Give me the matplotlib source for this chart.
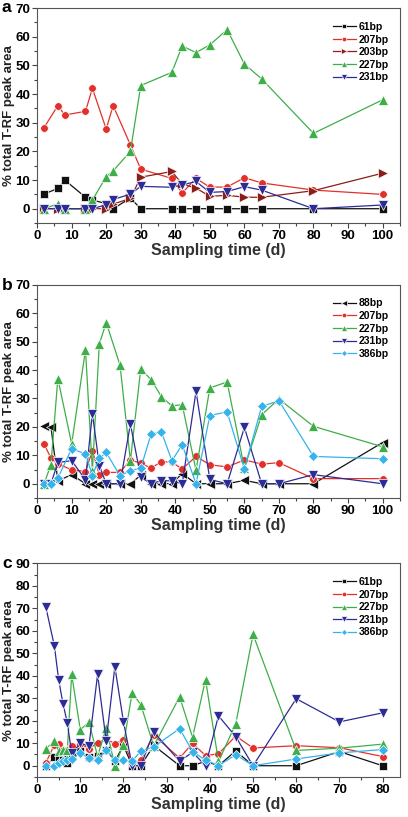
import matplotlib
matplotlib.use("Agg")
import matplotlib.pyplot as plt
from matplotlib.ticker import MultipleLocator

plt.rcParams["font.family"] = ["Liberation Sans", "DejaVu Sans"]
plt.rcParams["font.weight"] = "bold"

BLACK = "#111111"
RED = "#e2312b"
DARKRED = "#8a1f1a"
GREEN = "#3fae49"
BLUE = "#2c2c96"
LBLUE = "#35b3ea"

# ---- panel a -------------------------------------------------------------
t_a = [2, 6, 8, 14, 16, 20, 22, 27, 30, 39, 42, 46, 50, 55, 60, 65, 80, 100]
a_61 = [5.1, 7.1, 10, 4, 3, 1.8, 0, 3.7, 0, 0, 0, 0, 0, 0, 0, 0, 0, 0]
a_207 = [28.3, 36, 32.7, 34, 42, 27.8, 36, 22.3, 13.8, 10.6, 5.5, 10.6,
         7.5, 7.6, 10.8, 9, 6.5, 5]
a_203 = [0, 0, 0, 0, 0, 0, 1.6, 3.6, 11, 13, 8.6, 7.2, 4.3, 4.7, 4, 4,
         6.3, 12.4]
a_227 = [0, 1.7, 0, 0, 3, 11.2, 13.2, 20, 43, 47.6, 56.8, 54.5, 57.2,
         62.5, 50.5, 45.3, 26.3, 38]
a_231 = [0, 0, 0, 0, 0, 1.4, 3.2, 5.1, 7.8, 7.5, 8.3, 9.5, 5.7, 6, 7.7,
         6.5, 0, 1.3]

# ---- panel b -------------------------------------------------------------
t_b = [2, 4, 6, 10, 14, 16, 18, 20, 24, 27, 30, 33, 36, 39, 42, 46, 50,
       55, 60, 65, 70, 80, 100]
b_88 = [20.2, 20, 1, 3.2, 0, 0, 0, 0, 0, 0, 3, 0, 0, 0, 3.6, 0, 0, 0,
        1.2, 0, 0, 0, 14.5]
b_207 = [14, 9, 7, 4.9, 4.3, 11.6, 3.2, 4, 4, 8.4, 7.2, 5.5, 7.8, 7.6,
         5.2, 9.6, 6.7, 5.9, 8.4, 6.9, 7.4, 1.8, 1.8]
b_227 = [0, 6.7, 37, 14, 47.1, 4.6, 49.1, 56.7, 41.7, 8.1, 40.4, 36.6,
         30.6, 27.4, 27.8, 4.7, 33.7, 35.8, 5.5, 24.3, 29.8, 20.2, 13]
b_231 = [0, 0, 7.5, 8.1, 1.4, 24.7, 6.4, 0, 0, 21, 2.3, 0, 1.1, 1, 0,
         32.5, 1.5, 0, 19.8, 0, 0, 3.2, 0]
b_386 = [0, 0, 2, 12.3, 10.5, 2.9, 9, 11, 2.8, 4.6, 5.5, 17.5, 18.2, 8.1,
         13.7, 0, 24, 25.3, 5.2, 27.2, 29.2, 9.6, 8.8]

# ---- panel c -------------------------------------------------------------
t_c = [2, 4, 5, 6, 7, 8, 10, 12, 14, 16, 18, 20, 22, 24, 27, 33, 36, 39,
       42, 46, 50, 60, 70, 80]
c_61 = [0, 3.7, 3, 3, 1, 5, 6.5, 4, 4.5, 7.2, 2, 9, 0, 0, 9, 0, 0, 2,
        0, 6.6, 0, 0, 6.3, 0]
c_207 = [1.2, 9.4, 9.8, 7, 7, 8.9, 9.8, 7.6, 10.1, 11.9, 9.8, 11.6, 0.8,
         2.7, 13.6, 3.4, 10, 4.5, 5.3, 13.2, 7.9, 8.9, 8, 4.1]
c_227 = [7.6, 10.8, 6.5, 7, 7, 40.6, 16, 19.4, 4.2, 16.8, 0, 9.4, 32.4,
         27.2, 8.8, 30.6, 12.6, 38.3, 1.9, 18.6, 58.4, 6.8, 7.8, 9.6]
c_231 = [70.7, 53.2, 38, 27.5, 19, 5.5, 10, 8.7, 40.6, 11, 44, 19.5, 0, 0,
         15, 2, 6, 0, 22.2, 12.9, 0, 29.8, 19.5, 23.5]
c_386 = [0, 0, 1, 2, 2.6, 3, 5.6, 3.3, 2.6, 7.2, 2.6, 2.6, 2, 6.5, 8.4,
         16.5, 6.3, 2.5, 0, 4.9, 0, 3, 5.7, 7.2]

panels = [
    ("a", t_a, [("61bp", a_61, BLACK, "s"), ("207bp", a_207, RED, "o"),
                ("203bp", a_203, DARKRED, ">"), ("227bp", a_227, GREEN, "^"),
                ("231bp", a_231, BLUE, "v")], 105, 70),
    ("b", t_b, [("88bp", b_88, BLACK, "<"), ("207bp", b_207, RED, "o"),
                ("227bp", b_227, GREEN, "^"), ("231bp", b_231, BLUE, "v"),
                ("386bp", b_386, LBLUE, "D")], 105, 70),
    ("c", t_c, [("61bp", c_61, BLACK, "s"), ("207bp", c_207, RED, "o"),
                ("227bp", c_227, GREEN, "^"), ("231bp", c_231, BLUE, "v"),
                ("386bp", c_386, LBLUE, "D")], 84, 90),
]

fig = plt.figure(figsize=(4.08, 8.17), dpi=100)
rects = [(0.091, 0.727, 0.889, 0.263),
         (0.091, 0.3905, 0.889, 0.261),
         (0.091, 0.049, 0.889, 0.2615)]
letter_y = [8, 285, 564]

for (letter, t, series, xmax, ymax), r, ly in zip(panels, rects, letter_y):
    ax = fig.add_axes(r)
    for label, vals, color, mk in series:
        ms = {"o": 5.5, "s": 5.2, "D": 5}.get(mk, 6.5)
        ax.plot(t, vals, "-", color=color, lw=0.9, marker=mk, ms=ms,
                mfc=color, mec="white", mew=0.5, label=label)
    ax.set_xlim(0, xmax)
    ax.set_ylim(-5, ymax)
    ax.xaxis.set_major_locator(MultipleLocator(10))
    ax.xaxis.set_minor_locator(MultipleLocator(5))
    ax.yaxis.set_minor_locator(MultipleLocator(5))
    ax.set_yticks(range(0, ymax + 1, 10))
    ax.tick_params(which="both", direction="out", labelsize=9.5, width=0.8,
                   color="#444444", pad=1.5)
    ax.tick_params(which="major", length=3.5)
    ax.tick_params(which="minor", length=2)
    for s in ax.spines.values():
        s.set_color("#555555")
        s.set_linewidth(0.8)
    ax.set_xlabel("Sampling time (d)", fontsize=11.5, fontweight="bold",
                  color="#333333", labelpad=1)
    ax.set_ylabel("% total T-RF peak area", fontsize=9.5, fontweight="bold",
                  color="#222222")
    ax.yaxis.set_label_coords(-0.062, 0.5)
    ax.legend(loc="upper right", bbox_to_anchor=(0.99, 0.97), frameon=False,
              fontsize=7.5, handlelength=2.2, labelspacing=0.25,
              handletextpad=0.3, borderaxespad=0.3, markerscale=0.6)
    fig.text(2 / 408, 1 - ly / 817, letter, fontsize=12.5,
             fontweight="bold", va="center", ha="left")

fig.savefig("out.png", dpi=100)
